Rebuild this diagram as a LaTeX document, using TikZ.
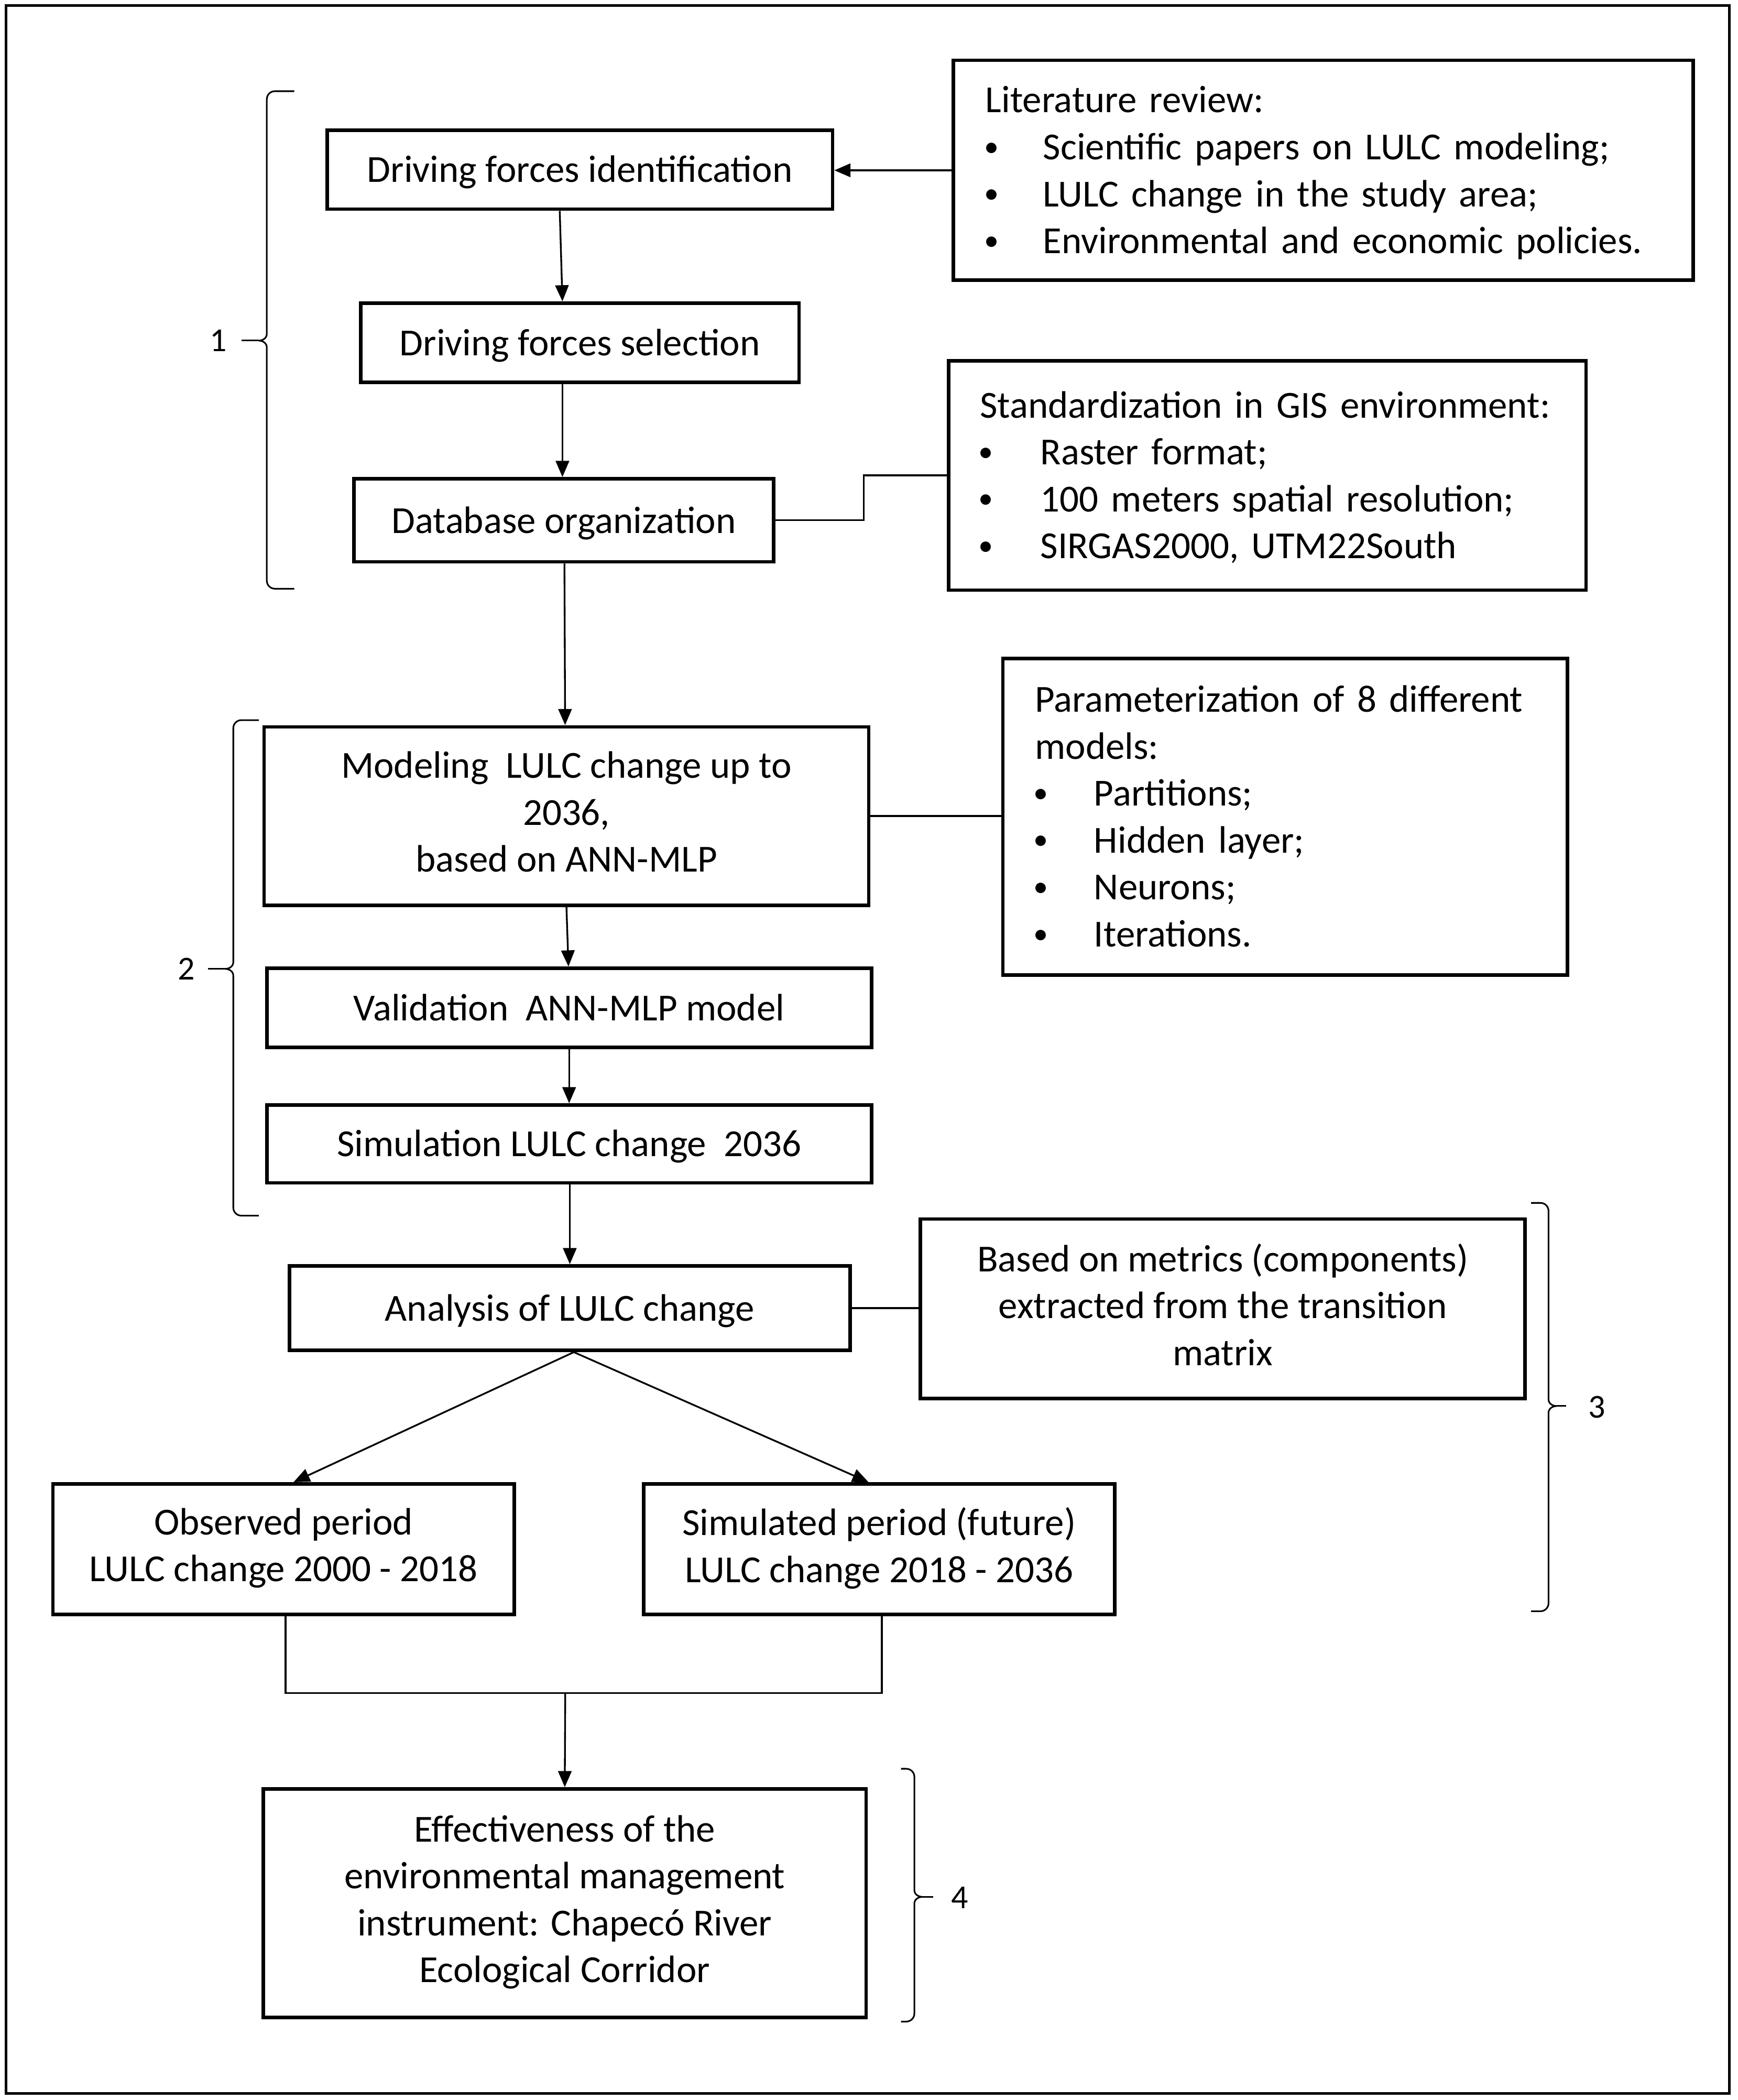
\documentclass[tikz,border=0pt]{standalone}
\usepackage{fontspec}
\setmainfont{Carlito}
\usetikzlibrary{arrows.meta,calc}
\newcommand{\topstrut}{\rule{0pt}{25.5pt}}
\newcommand{\botstrut}{\rule[-6.5pt]{0pt}{6.5pt}}
\newcommand{\bul}[1]{\makebox[#1][l]{\hspace{-1pt}\raisebox{2.5pt}{\fontsize{22}{22}\selectfont\textbullet}}}
\begin{document}
\begin{tikzpicture}[x=1pt,y=-1pt,
  every node/.style={font=\fontsize{28.5}{35}\selectfont},
  box/.style={draw,line width=2.6pt,inner sep=0pt,align=center,
    execute at begin node=\topstrut,execute at end node=\botstrut},
  listbox/.style={draw,line width=2.6pt,inner ysep=0pt,align=left,
    execute at begin node=\topstrut,execute at end node=\botstrut},
  conn/.style={line width=1.3pt},
  arr/.style={line width=1.3pt,-{Triangle[length=12pt,width=10pt]}},
  brace/.style={line width=1.2pt},
  lbl/.style={font=\fontsize{25}{30}\selectfont,inner sep=0pt}]
\useasboundingbox (0,0) rectangle (1296,1566);
\draw[line width=2pt] (4.5,4) rectangle (1290,1561);
% boxes
\node[listbox,inner xsep=24pt,text width=504pt,minimum height=164pt] (lit) at (987,127)
 {Literature review:\\ \bul{43pt}Scientific papers on LULC modeling;\\ \bul{43pt}LULC change in the study area;\\ \bul{43pt}Environmental and economic policies.};
\node[box,minimum width=377pt,minimum height=59pt] (dfi) at (432.5,126.5) {Driving forces identification};
\node[box,minimum width=327pt,minimum height=59pt] (dfs) at (432.5,255.5) {Driving forces selection};
\node[box,minimum width=313pt,minimum height=62pt] (dbo) at (420.5,388) {Database organization};
\node[listbox,inner xsep=23.5pt,text width=428.5pt,minimum height=171pt] (std) at (945.25,354.5)
 {Standardization in GIS environment:\\ \bul{45pt}Raster format;\\ \bul{45pt}100 meters spatial resolution;\\ \bul{45pt}SIRGAS2000, UTM22South};
\node[box,minimum width=451pt,minimum height=133pt] (mod) at (422.5,608.5) {Modeling~ LULC change up to\\2036,\\based on ANN-MLP};
\node[listbox,inner xsep=24pt,text width=373pt,minimum height=236pt] (par) at (958.5,609)
 {Parameterization of 8 different\\models:\\ \bul{44pt}Partitions;\\ \bul{44pt}Hidden layer;\\ \bul{44pt}Neurons;\\ \bul{44pt}Iterations.};
\node[box,minimum width=451pt,minimum height=59pt] (val) at (424.5,751.5) {Validation~ ANN-MLP model};
\node[box,minimum width=451pt,minimum height=58pt] (sim) at (424.5,853) {Simulation LULC change~ 2036};
\node[box,minimum width=418pt,minimum height=63pt] (ana) at (425,975.5) {Analysis of LULC change};
\node[box,minimum width=451pt,minimum height=134pt] (met) at (912,976) {Based on metrics (components)\\extracted from the transition\\matrix};
\node[box,minimum width=344pt,minimum height=97.5pt] (obs) at (211.5,1155.25) {Observed period\\LULC change 2000 - 2018};
\node[box,minimum width=351.5pt,minimum height=97.5pt] (simp) at (655.75,1155.25) {Simulated period (future)\\LULC change 2018 - 2036};
\node[box,minimum width=449.5pt,minimum height=170.5pt] (eff) at (421.25,1419.25) {Effectiveness of the\\environmental management\\instrument: Chapecó River\\Ecological Corridor};
% connectors
\draw[arr] (lit.west) -- (lit.west -| dfi.east);
\draw[arr] ([xshift=-15pt]dfi.south) -- ([xshift=-13pt]dfs.north);
\draw[arr] ([xshift=-13pt]dfs.south) -- ([xshift=-1pt]dbo.north);
\draw[conn] (dbo.east) -- ++(66,0) |- (std.west);
\draw[arr] ([xshift=0.5pt]dbo.south) -- ([xshift=-1pt]mod.north);
\draw[conn] (mod.east) -- (mod.east -| par.west);
\draw[arr] (mod.south) -- ([xshift=-0.5pt]val.north);
\draw[arr] (val.south) -- (sim.north);
\draw[arr] ([xshift=0.5pt]sim.south) -- (ana.north);
\draw[conn] (ana.east) -- (ana.east -| met.west);
\draw[arr] ([xshift=3pt]ana.south) -- ([xshift=7.5pt]obs.north);
\draw[arr] ([xshift=3pt]ana.south) -- ([xshift=-8pt]simp.north);
\coordinate (j) at (421.6,1262.6);
\draw[conn] ([xshift=1.5pt]obs.south) |- (j) -| ([xshift=2pt]simp.south);
\draw[arr] (j) -- (eff.north);
% braces
\draw[brace] (219.5,68) -- (205,68) to[out=180,in=90] (199,74) -- (199,249) to[out=-90,in=0] (193,254) to[out=0,in=90] (199,259) -- (199,433) to[out=-90,in=180] (205,439) -- (219.5,439);
\draw[brace] (180,254) -- (193,254);
\node[lbl] (n1) at (163,254) {1};
\draw[brace] (193,537) -- (180,537) to[out=180,in=90] (174,543) -- (174,717.5) to[out=-90,in=0] (168,722.5) to[out=0,in=90] (174,727.5) -- (174,900.5) to[out=-90,in=180] (180,906.5) -- (193,906.5);
\draw[brace] (155,722.5) -- (168,722.5);
\node[lbl] (n2) at (139,722.5) {2};
\draw[brace] (1142,897) -- (1149,897) to[out=0,in=90] (1155,903) -- (1155,1043.5) to[out=-90,in=180] (1161,1048.5) to[out=180,in=90] (1155,1053.5) -- (1155,1195.5) to[out=-90,in=0] (1149,1201.5) -- (1142,1201.5);
\draw[brace] (1161,1048.5) -- (1168,1048.5);
\node[lbl] (n3) at (1191,1049.5) {3};
\draw[brace] (672,1319) -- (676,1319) to[out=0,in=90] (682,1325) -- (682,1409.5) to[out=-90,in=180] (688,1414.5) to[out=180,in=90] (682,1419.5) -- (682,1501.5) to[out=-90,in=0] (676,1507.5) -- (672,1507.5);
\draw[brace] (688,1414.5) -- (696,1414.5);
\node[lbl] (n4) at (716,1415) {4};
\end{tikzpicture}
\end{document}
